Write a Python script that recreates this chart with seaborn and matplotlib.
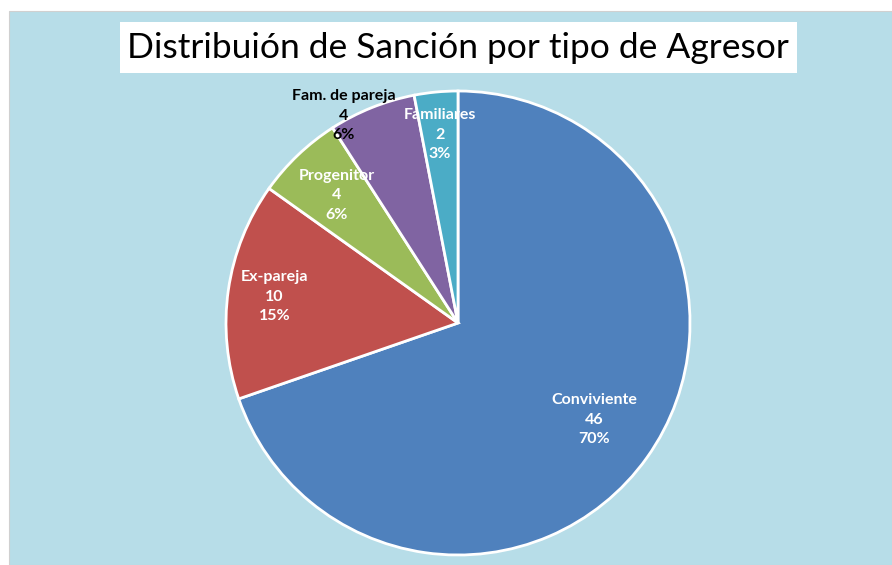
import numpy as np
import matplotlib
matplotlib.use("Agg")
import matplotlib.pyplot as plt
import seaborn as sns
from matplotlib.patches import Rectangle

# Data
categorias = ["Conviviente", "Ex-pareja", "Progenitor", "Fam. de pareja", "Familiares"]
valores = [46, 10, 4, 4, 2]
porcentajes = ["70%", "15%", "6%", "6%", "3%"]
colores = ["#4F81BD", "#C0504D", "#9BBB59", "#8064A2", "#4BACC6"]
titulo = "Distribuión de Sanción por tipo de Agresor"

sns.set_theme(style="white")
plt.rcParams["font.family"] = ["Lato", "DejaVu Sans"]

W, H = 892, 565
fig = plt.figure(figsize=(W / 100, H / 100), dpi=100)
fig.patch.set_facecolor("white")

# background axes in pixel coordinates (y down)
bg = fig.add_axes([0, 0, 1, 1])
bg.set_xlim(0, W)
bg.set_ylim(H, 0)
bg.axis("off")
bg.add_patch(Rectangle((9, 11), W - 9, H - 11, facecolor="#B7DDE8",
                       edgecolor="#D0D0D0", linewidth=0.8))
bg.add_patch(Rectangle((120, 22), 677, 51, facecolor="white", edgecolor="none"))
bg.text(458, 48, titulo, ha="center", va="center", fontsize=25.5, color="black")

# pie axes: center (458, 323), radius 232 px
r = 232
ax = fig.add_axes([(458 - r) / W, (H - 323 - r) / H, 2 * r / W, 2 * r / H])
wedges, _ = ax.pie(valores, colors=colores, startangle=90, counterclock=False,
                   radius=1, wedgeprops={"edgecolor": "white", "linewidth": 2})
ax.set_xlim(-1, 1)
ax.set_ylim(-1, 1)
ax.set_aspect("equal")
ax.axis("off")

# label distance and angle tweak per slice
distancias = [0.72, 0.80, 0.76, 1.02, 0.815]
ajuste_ang = [0, 0, 0, 7, 0]
colores_txt = ["white", "white", "white", "black", "white"]

for w, cat, val, pct, d, da, c in zip(wedges, categorias, valores, porcentajes,
                                      distancias, ajuste_ang, colores_txt):
    ang = np.deg2rad((w.theta1 + w.theta2) / 2 + da)
    ax.text(d * np.cos(ang), d * np.sin(ang), f"{cat}\n{val}\n{pct}",
            ha="center", va="center", fontsize=11.5, fontweight="bold",
            color=c, linespacing=1.5)

fig.savefig("out.png", dpi=100)
